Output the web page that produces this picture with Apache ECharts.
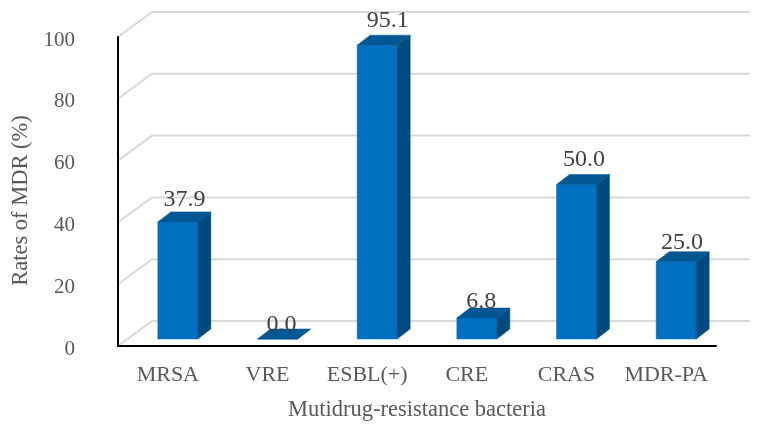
<!DOCTYPE html>
<html><head><meta charset="utf-8">
<style>html,body{margin:0;padding:0;background:#fff}#c{width:764px;height:425px}</style>
<script src="https://cdn.jsdelivr.net/npm/echarts@6/dist/echarts.min.js"></script>
</head><body><div id="c"></div>
<script>
const categories = ['MRSA','VRE','ESBL(+)','CRE','CRAS','MDR-PA'];
const rates = [37.9,0.0,95.1,6.8,50.0,25.0];
const yTicks = [0,20,40,60,80,100];
const FONT = '"Liberation Serif","Times New Roman",serif';
const WALL = {dx:34,dy:-25};
const BASE = {dx:10,dy:-7};
const DEPTH = {dx:13,dy:-10};
const BAR_W = 40;
const chart = echarts.init(document.getElementById('c'),null,{renderer:'canvas'});
function poly(points,fill,stroke){
  return {type:'polygon',shape:{points},style:{fill,stroke:stroke||fill,lineWidth:stroke?1:0.5}};
}
chart.setOption({
  animation:false,
  backgroundColor:'#ffffff',
  grid:{left:118,top:37,width:598,height:309,containLabel:false,outerBoundsMode:'none'},
  xAxis:{type:'category',data:categories,z:10,
    name:'Mutidrug-resistance bacteria',nameLocation:'middle',nameGap:53,
    nameTextStyle:{fontFamily:FONT,fontSize:22.5,color:'#595959'},
    axisLine:{lineStyle:{color:'#000000',width:2}},axisTick:{show:false},
    axisLabel:{fontFamily:FONT,fontSize:22,color:'#595959',margin:18,interval:0},
    splitLine:{show:false}},
  yAxis:{type:'value',min:0,max:100,interval:20,z:10,
    name:'Rates of MDR (%)',nameLocation:'middle',nameGap:77,
    nameTextStyle:{fontFamily:FONT,fontSize:22.5,color:'#595959',padding:[0,18,0,0]},
    axisLine:{show:true,lineStyle:{color:'#000000',width:2}},axisTick:{show:false},
    axisLabel:{fontFamily:FONT,fontSize:21,color:'#595959',margin:43,verticalAlign:'top',lineHeight:6},
    splitLine:{show:false}},
  series:[
    {type:'custom',coordinateSystem:'cartesian2d',z:1,silent:true,
     encode:{y:0},
     data:yTicks.map(t=>[t]),
     renderItem(params,api){
       const y=api.coord([0,api.value(0)])[1];
       const r=params.coordSys;
       const x0=r.x, x1=r.x+r.width+WALL.dx;
       return {type:'polyline',shape:{points:[[x0,y],[x0+WALL.dx,y+WALL.dy],[x1,y+WALL.dy]]},
         style:{fill:null,stroke:'#d9d9d9',lineWidth:2}};
     }},
    {type:'custom',coordinateSystem:'cartesian2d',z:2,silent:true,
     encode:{x:0,y:1},
     data:categories.map((c,i)=>[i,rates[i]]),
     renderItem(params,api){
       const v=api.value(1);
       const top=api.coord([api.value(0),v]);
       const bot=api.coord([api.value(0),0]);
       const xl=top[0]+BASE.dx-BAR_W/2, xr=xl+BAR_W;
       const yt=top[1]+BASE.dy, yb=bot[1]+BASE.dy;
       const dx=DEPTH.dx, dy=DEPTH.dy;
       const lift=4.5+Math.min(v,50)*0.2;
       const nudge=4+v*0.07;
       return {type:'group',children:[
         poly([[xl,yt],[xr,yt],[xr,yb],[xl,yb]],'#0070c0'),
         poly([[xr,yt],[xr+dx,yt+dy],[xr+dx,yb+dy],[xr,yb]],'#004a80'),
         poly([[xl,yt],[xr,yt],[xr+dx,yt+dy],[xl+dx,yt+dy]],'#005794'),
         {type:'text',style:{text:v.toFixed(1),x:(xl+xr)/2+nudge,y:yt+dy-lift,
           fill:'#404040',font:'24px '+FONT,align:'center',verticalAlign:'middle'}}
       ]};
     }}
  ]
});
</script></body></html>
